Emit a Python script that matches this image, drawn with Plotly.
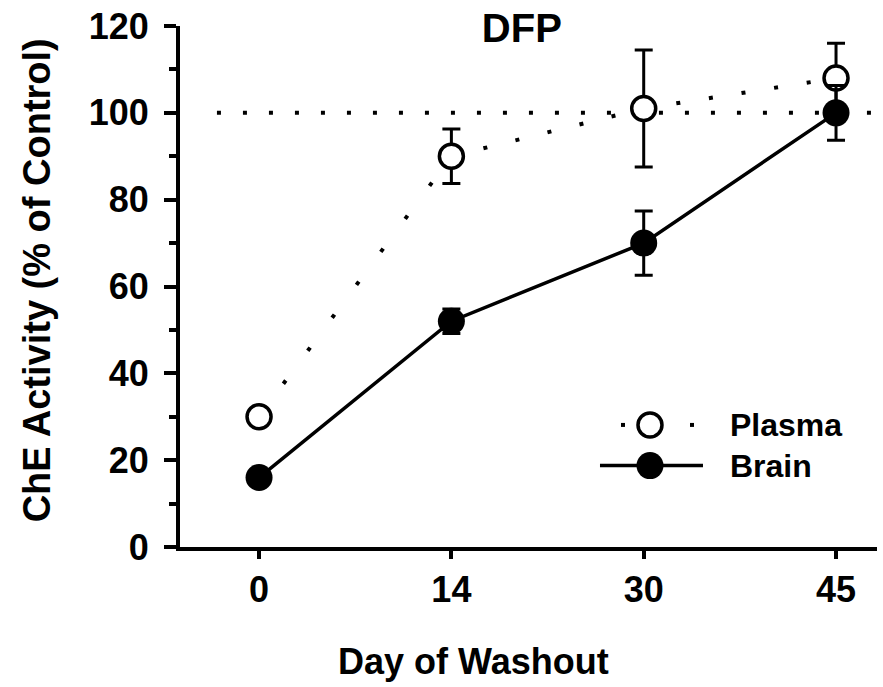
import plotly.graph_objects as go

# ---- data ----
days = ["0", "14", "30", "45"]
plasma = [30, 90, 101, 108]
plasma_err = [1.5, 6.3, 13.5, 8.0]
brain = [16, 52, 70, 100]
brain_err = [1.5, 2.8, 7.4, 6.3]
control_level = 100
y_major = [0, 20, 40, 60, 80, 100, 120]
y_minor = [10, 30, 50, 70, 90, 110]
series_names = ["Plasma", "Brain"]
title_text = "DFP"
x_title = "Day of Washout"
y_title = "ChE Activity (% of Control)"

FONT = "Liberation Sans, Arial, Helvetica, sans-serif"
xpos = list(range(len(days)))

fig = go.Figure()

# plasma dotted connecting line, segment by segment
seg_dash = ["4px,37px", "4px,29px", "4px,29px"]
for i in range(len(xpos) - 1):
    fig.add_trace(go.Scatter(
        x=xpos[i:i + 2], y=plasma[i:i + 2], mode="lines",
        line=dict(color="black", width=4, dash=seg_dash[i]),
        showlegend=False, hoverinfo="skip"))

# plasma markers with error bars
fig.add_trace(go.Scatter(
    x=xpos, y=plasma, mode="markers", name=series_names[0],
    marker=dict(symbol="circle", size=24, color="white",
                line=dict(color="black", width=3.5)),
    error_y=dict(type="data", array=plasma_err, visible=True,
                 color="black", thickness=3, width=9),
    showlegend=False))

# brain line + markers with error bars
fig.add_trace(go.Scatter(
    x=xpos, y=brain, mode="lines+markers", name=series_names[1],
    line=dict(color="black", width=3.5),
    marker=dict(symbol="circle", size=27, color="black",
                line=dict(color="black", width=0)),
    error_y=dict(type="data", array=brain_err, visible=True,
                 color="black", thickness=3, width=9),
    showlegend=False))

shapes = []
# control reference line at 100 %
shapes.append(dict(type="line", xref="paper", yref="y",
                   x0=0.053, x1=1.0, y0=control_level, y1=control_level,
                   line=dict(color="black", width=4, dash="4px,22px"),
                   layer="below"))

# ---- manual legend ----
lx = 0.6743
ly = [0.2343, 0.1562]
# plasma glyph: dot, open circle, dot
for dx in (-27, 42):
    shapes.append(dict(type="rect", xref="paper", yref="paper",
                       xsizemode="pixel", ysizemode="pixel",
                       xanchor=lx, yanchor=ly[0],
                       x0=dx - 2, x1=dx + 2, y0=-2, y1=2,
                       fillcolor="black", line=dict(width=0)))
shapes.append(dict(type="circle", xref="paper", yref="paper",
                   xsizemode="pixel", ysizemode="pixel",
                   xanchor=lx, yanchor=ly[0],
                   x0=-12, x1=12, y0=-12, y1=12,
                   fillcolor="white", line=dict(color="black", width=3.5)))
# brain glyph: line with filled circle
shapes.append(dict(type="line", xref="paper", yref="paper",
                   xsizemode="pixel", ysizemode="pixel",
                   xanchor=lx, yanchor=ly[1],
                   x0=-50, x1=53, y0=0, y1=0,
                   line=dict(color="black", width=3.5)))
shapes.append(dict(type="circle", xref="paper", yref="paper",
                   xsizemode="pixel", ysizemode="pixel",
                   xanchor=lx, yanchor=ly[1],
                   x0=-13.5, x1=13.5, y0=-13.5, y1=13.5,
                   fillcolor="black", line=dict(color="black", width=0)))

annotations = []
for name, yy in zip(series_names, ly):
    annotations.append(dict(text=name, xref="paper", yref="paper",
                            x=0.7862, y=yy, xanchor="left", yanchor="middle",
                            showarrow=False,
                            font=dict(family=FONT, size=32, color="black",
                                      weight="bold")))
annotations.append(dict(text=x_title, xref="paper", yref="paper",
                        x=0.4204, y=-0.219, xanchor="center", yanchor="middle",
                        showarrow=False,
                        font=dict(family=FONT, size=36, color="black",
                                  weight="bold")))
annotations.append(dict(text=y_title, xref="paper", yref="paper",
                        x=-0.205, y=0.512, xanchor="center", yanchor="middle",
                        textangle=-90, showarrow=False,
                        font=dict(family=FONT, size=38, color="black",
                                  weight="bold")))

fig.update_layout(
    width=883, height=687,
    margin=dict(l=180, r=6, t=22, b=140),
    paper_bgcolor="white", plot_bgcolor="white",
    font=dict(family=FONT, color="black"),
    title=dict(text=title_text, x=0.591, xanchor="center",
               y=1 - 28 / 687, yanchor="middle",
               font=dict(family=FONT, size=40, color="black", weight="bold")),
    shapes=shapes,
    annotations=annotations,
    showlegend=False,
)

fig.update_xaxes(
    range=[-0.411, 3.213],
    tickmode="array", tickvals=xpos, ticktext=days,
    ticks="outside", ticklen=8, tickwidth=4, tickcolor="black",
    showline=True, linewidth=4, linecolor="black",
    showgrid=False, zeroline=False,
    tickfont=dict(family=FONT, size=36, color="black", weight="bold"),
)
fig.update_yaxes(
    range=[0, 120],
    tickmode="array", tickvals=y_major,
    ticks="outside", ticklen=12, tickwidth=4, tickcolor="black",
    showline=True, linewidth=4, linecolor="black",
    showgrid=False, zeroline=False,
    minor=dict(tickmode="array", tickvals=y_minor, ticks="outside",
               ticklen=7, tickwidth=4, tickcolor="black", showgrid=False),
    tickfont=dict(family=FONT, size=36, color="black", weight="bold"),
    ticklabelstandoff=8,
)

fig.write_html("out.html", config={"displayModeBar": False})
